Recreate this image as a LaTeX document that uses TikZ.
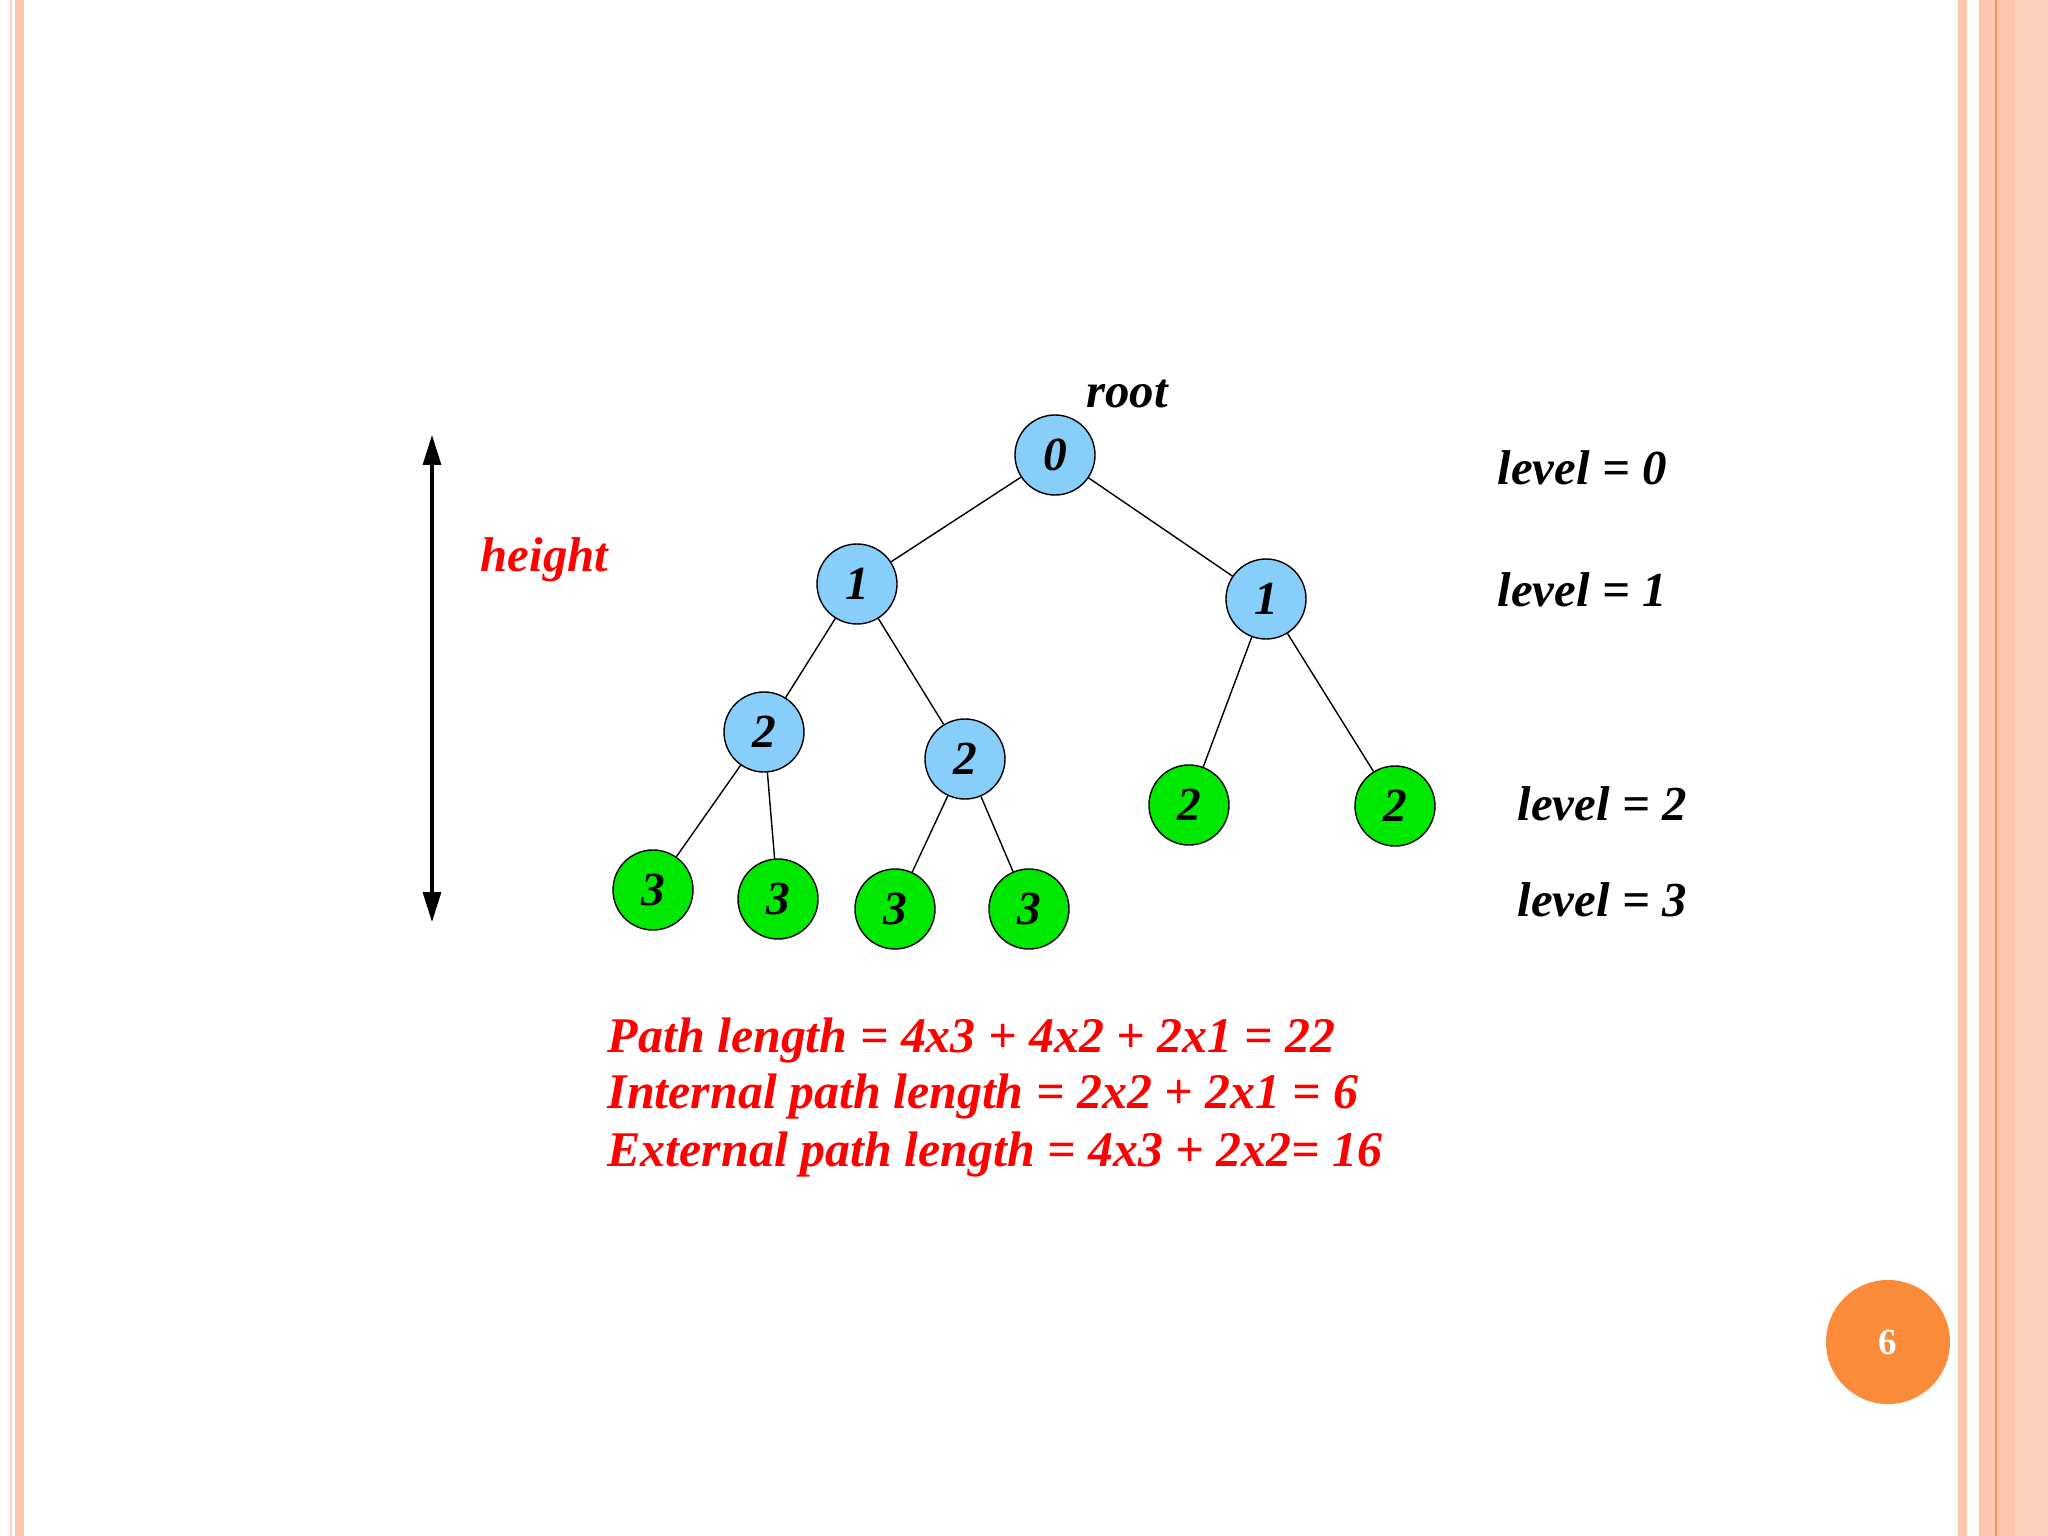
\documentclass[tikz,border=0pt]{standalone}
\usepackage{fontspec}
\setmainfont{Liberation Serif}
\usetikzlibrary{arrows.meta}
\definecolor{nodeBlue}{HTML}{87CEFA}
\definecolor{nodeGreen}{HTML}{00E800}
\definecolor{stripeSalmon}{HTML}{FCC6AF}
\definecolor{stripeLight}{HTML}{FDD0BE}
\definecolor{pageOrange}{HTML}{F98B3A}
\definecolor{lineOrange}{HTML}{F2924F}

\begin{document}
\begin{tikzpicture}[
    vert/.style={circle, draw, line width=0.4pt, minimum size=0.8cm, inner sep=0pt,
      font=\fontsize{13.5}{15}\selectfont\bfseries\itshape},
    lvl/.style={anchor=base west, inner sep=0pt, font=\fontsize{13.9}{16}\selectfont\bfseries\itshape},
    redline/.style={anchor=base west, inner sep=0pt, text=red, font=\fontsize{14.2}{16}\selectfont\bfseries\itshape},
    edge/.style={line width=0.4pt}
  ]
    % page and side stripes
    \fill[white] (0,0) rectangle (20.48,-15.36);
    \useasboundingbox (0,0) rectangle (20.48,-15.36);
    \fill[stripeLight] (0.10,0) rectangle (0.12,-15.36);
    \fill[stripeSalmon] (0.15,0) rectangle (0.24,-15.36);
    \fill[stripeSalmon] (19.58,0) rectangle (19.67,-15.36);
    \fill[stripeSalmon] (19.79,0) rectangle (19.95,-15.36);
    \fill[lineOrange] (19.95,0) rectangle (19.97,-15.36);
    \fill[stripeSalmon] (19.97,0) rectangle (20.15,-15.36);
    \fill[stripeLight] (20.15,0) rectangle (20.48,-15.36);

    % tree
    \foreach \name/\x/\y/\lab/\c in {n0/10.55/4.55/0/nodeBlue,
        n1a/8.57/5.84/1/nodeBlue, n1b/12.66/5.99/1/nodeBlue,
        n2a/7.64/7.32/2/nodeBlue, n2b/9.65/7.59/2/nodeBlue,
        n2c/11.89/8.05/2/nodeGreen, n2d/13.95/8.06/2/nodeGreen,
        n3a/6.53/8.90/3/nodeGreen, n3b/7.78/8.99/3/nodeGreen,
        n3c/8.95/9.09/3/nodeGreen, n3d/10.29/9.09/3/nodeGreen} {
      \node[vert, fill=\c] (\name) at (\x,-\y) {\lab};
    }
    \foreach \a/\b in {n0/n1a, n0/n1b, n1a/n2a, n1a/n2b, n1b/n2c, n1b/n2d,
        n2a/n3a, n2a/n3b, n2b/n3c, n2b/n3d} {
      \draw[edge] (\a) -- (\b);
    }
    \node[anchor=base, inner sep=0pt, font=\fontsize{13.9}{16}\selectfont\bfseries\itshape] (rootlab) at (11.27,-4.08) {root};

    % levels
    \node[lvl] (lev0) at (14.97,-4.85) {level = 0};
    \node[lvl] (lev1) at (14.97,-6.07) {level = 1};
    \node[lvl] (lev2) at (15.17,-8.21) {level = 2};
    \node[lvl] (lev3) at (15.17,-9.17) {level = 3};

    % height arrow
    \coordinate (htop) at (4.32,-4.35);
    \coordinate (hbot) at (4.32,-9.22);
    \draw[line width=0.9pt, {Triangle[length=0.3cm, width=0.18cm]}-{Triangle[length=0.3cm, width=0.18cm]}] (htop) -- (hbot);
    \node[anchor=base west, inner sep=0pt, text=red, font=\fontsize{13.9}{16}\selectfont\bfseries\itshape] (hlab) at (4.80,-5.72) {height};

    % path lengths
    \node[redline] (pathlen) at (6.07,-10.52) {Path length = 4x3 + 4x2 + 2x1 = 22};
    \node[redline] (intlen) at (6.07,-11.08) {Internal path length = 2x2 + 2x1 = 6};
    \node[redline] (extlen) at (6.07,-11.66) {External path length = 4x3 + 2x2= 16};

    % page number
    \node[circle, fill=pageOrange, minimum size=1.24cm, inner sep=0pt, text=white,
      font=\fontsize{10.5}{12}\selectfont\bfseries] (pagenum) at (18.88,-13.42) {6};
  \end{tikzpicture}
\end{document}
